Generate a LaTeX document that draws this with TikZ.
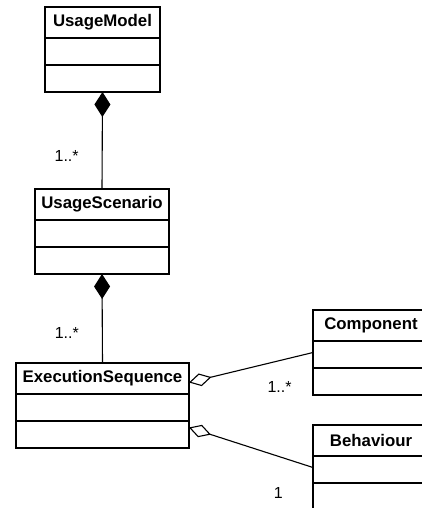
\documentclass[tikz,border=0pt]{standalone}
\usepackage{fontspec}
\setmainfont{Liberation Sans}
\usetikzlibrary{positioning,arrows.meta}

\begin{document}
\begin{tikzpicture}[x=1pt,y=-1pt,
  classhead/.style={draw,line width=1.5pt,outer sep=0pt,inner sep=0pt,minimum height=31pt,font=\fontsize{16.8}{20}\selectfont\bfseries},
  classbody/.style={draw,line width=1.5pt,outer sep=0pt,inner sep=0pt,minimum height=27pt},
  composition/.style={line width=1.1pt,-{Diamond[length=25pt,width=16pt]}},
  aggregation/.style={line width=1.1pt,{Diamond[open,length=23pt,width=13pt]}-},
  mult/.style={font=\fontsize{16}{19}\selectfont,inner sep=0pt}]
  \clip (0,0) rectangle (422,508);
  % classes: header plus two empty compartments
  \node[classhead,minimum width=115pt] (model) at (102.5,22.5) {UsageModel};
  \node[classbody,minimum width=115pt,below=0pt of model] (model-attr) {};
  \node[classbody,minimum width=115pt,below=0pt of model-attr] (model-ops) {};
  \node[classhead,minimum width=134pt] (scenario) at (102,204.5) {UsageScenario};
  \node[classbody,minimum width=134pt,below=0pt of scenario] (scenario-attr) {};
  \node[classbody,minimum width=134pt,below=0pt of scenario-attr] (scenario-ops) {};
  \node[classhead,minimum width=173pt] (exec) at (102.5,378.5) {ExecutionSequence};
  \node[classbody,minimum width=173pt,below=0pt of exec] (exec-attr) {};
  \node[classbody,minimum width=173pt,below=0pt of exec-attr] (exec-ops) {};
  \node[classhead,minimum width=116pt] (comp) at (371,325.5) {Component};
  \node[classbody,minimum width=116pt,below=0pt of comp] (comp-attr) {};
  \node[classbody,minimum width=116pt,below=0pt of comp-attr] (comp-ops) {};
  \node[classhead,minimum width=116pt] (beh) at (371,440.5) {Behaviour};
  \node[classbody,minimum width=116pt,below=0pt of beh] (beh-attr) {};
  \node[classbody,minimum width=116pt,below=0pt of beh-attr] (beh-ops) {};
  % associations
  \draw[composition] (scenario.north) -- (model-ops.south) node[mult,pos=0.34,left=23pt] {1..*};
  \draw[composition] (exec.north) -- (scenario-ops.south) node[mult,pos=0.34,left=23pt] {1..*};
  \draw[aggregation] ([yshift=-4pt]exec.east) -- ([yshift=2pt]comp-attr.west) node[mult,pos=0.73,below=20pt] {1..*};
  \draw[aggregation] ([yshift=7pt]exec-ops.east) -- ([yshift=2pt]beh-attr.west) node[mult,pos=0.72,below=31pt] {1};
\end{tikzpicture}
\end{document}
